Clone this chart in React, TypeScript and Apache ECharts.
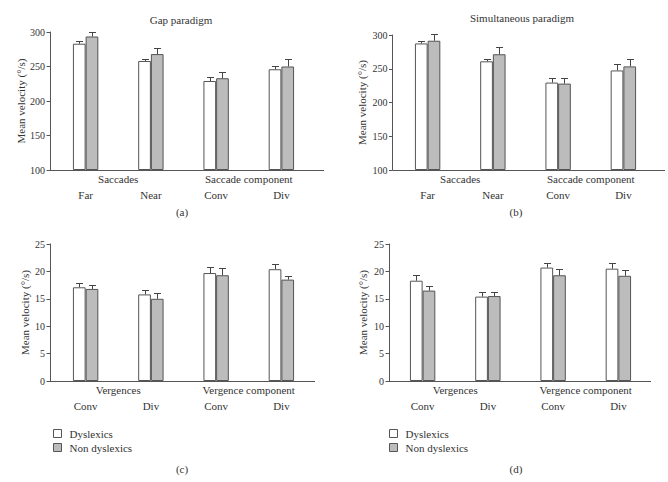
import React, { useEffect, useRef } from "react";
import * as echarts from "echarts";

// ---- Data ----
const saccadeCats = ["Far", "Near", "Conv", "Div"];
const saccadeGroups = ["Saccades", "Saccade component"];
const vergenceCats = ["Conv", "Div", "Conv", "Div"];
const vergenceGroups = ["Vergences", "Vergence component"];
const seriesNames = ["Dyslexics", "Non dyslexics"];

// (a) Gap paradigm – saccades
const gapDys = [283, 258, 229, 246];
const gapDysErr = [3.5, 3.5, 5.5, 5];
const gapNon = [293.5, 268, 233, 250];
const gapNonErr = [7, 9.5, 9, 11];
// (b) Simultaneous paradigm – saccades
const simDys = [287.5, 261, 229.5, 247.5];
const simDysErr = [4, 3.5, 7.5, 9.5];
const simNon = [291.5, 271.5, 228, 253.5];
const simNonErr = [9.5, 10.5, 9, 11.5];
// (c) Gap paradigm – vergences
const gapVDys = [17.1, 15.8, 19.7, 20.4];
const gapVDysErr = [0.8, 0.8, 1.1, 1.0];
const gapVNon = [16.8, 15.0, 19.3, 18.5];
const gapVNonErr = [0.8, 1.0, 1.4, 0.6];
// (d) Simultaneous paradigm – vergences
const simVDys = [18.3, 15.4, 20.7, 20.5];
const simVDysErr = [1.1, 0.9, 0.9, 1.0];
const simVNon = [16.5, 15.5, 19.3, 19.2];
const simVNonErr = [0.9, 0.8, 1.2, 1.1];

const FONT = "'Liberation Serif', 'DejaVu Serif', serif";
const TXT = "#333";
const AX = "#555";
const BAR_W = 12.7;

type Panel = {
  grid: { left: number; top: number; width: number; height: number };
  yOffset: number;
  nameGap: number;
  min: number;
  max: number;
  interval: number;
  cats: string[];
  groups: string[];
  dys: number[];
  dysErr: number[];
  non: number[];
  nonErr: number[];
  axisEnd: number;
};

const panels: Panel[] = [
  {
    grid: { left: 53, top: 32, width: 261, height: 138 },
    yOffset: 3, nameGap: 24, min: 100, max: 300, interval: 50,
    cats: saccadeCats, groups: saccadeGroups,
    dys: gapDys, dysErr: gapDysErr, non: gapNon, nonErr: gapNonErr, axisEnd: 324,
  },
  {
    grid: { left: 395, top: 35, width: 261, height: 135 },
    yOffset: 2.5, nameGap: 25, min: 100, max: 300, interval: 50,
    cats: saccadeCats, groups: saccadeGroups,
    dys: simDys, dysErr: simDysErr, non: simNon, nonErr: simNonErr, axisEnd: 665,
  },
  {
    grid: { left: 53, top: 244, width: 261, height: 137 },
    yOffset: 3, nameGap: 20, min: 0, max: 25, interval: 5,
    cats: vergenceCats, groups: vergenceGroups,
    dys: gapVDys, dysErr: gapVDysErr, non: gapVNon, nonErr: gapVNonErr, axisEnd: 315,
  },
  {
    grid: { left: 390, top: 244, width: 261, height: 137 },
    yOffset: 1, nameGap: 21, min: 0, max: 25, interval: 5,
    cats: vergenceCats, groups: vergenceGroups,
    dys: simVDys, dysErr: simVDysErr, non: simVNon, nonErr: simVNonErr, axisEnd: 651,
  },
];

const panelLabels = ["(a)", "(b)", "(c)", "(d)"];
const panelTitles = ["Gap paradigm", "Simultaneous paradigm"];

function errSeries(name: string, xIdx: number, yIdx: number, vals: number[], errs: number[], shift: number) {
  return {
    type: "custom",
    name,
    xAxisIndex: xIdx,
    yAxisIndex: yIdx,
    z: 5,
    clip: false,
    data: vals.map((v, i) => [i, v, errs[i]]),
    renderItem: (params: any, api: any) => {
      const x = api.value(0);
      const v = api.value(1);
      const e = api.value(2);
      const p0 = api.coord([x, v]);
      const p1 = api.coord([x, v + e]);
      const cx = Math.round(p0[0] + shift) + 0.5;
      const ty = Math.round(p1[1]) + 0.5;
      return {
        type: "group",
        children: [
          { type: "line", shape: { x1: cx, y1: p0[1], x2: cx, y2: ty }, style: { stroke: "#444", lineWidth: 1 } },
          { type: "line", shape: { x1: cx - 3.5, y1: ty, x2: cx + 3.5, y2: ty }, style: { stroke: "#444", lineWidth: 1 } },
        ],
      };
    },
  };
}

export default function App() {
  const ref = useRef<HTMLDivElement>(null);
  useEffect(() => {
    if (!ref.current) return;
    const chart = echarts.init(ref.current, null, { renderer: "svg" });

    const grid: any[] = [];
    const xAxis: any[] = [];
    const yAxis: any[] = [];
    const series: any[] = [];
    const graphic: any[] = [];

    panels.forEach((p, i) => {
      grid.push({ ...p.grid, containLabel: false });
      // main categories
      xAxis.push({
        type: "category",
        gridIndex: i,
        position: "bottom",
        data: p.cats,
        axisLine: { show: false },
        axisTick: { show: false },
        axisLabel: { margin: 19, color: TXT, fontFamily: FONT, fontSize: 11 },
      });
      // group categories
      xAxis.push({
        type: "category",
        gridIndex: i,
        position: "bottom",
        data: p.groups,
        axisLine: { show: false },
        axisTick: { show: false },
        axisLabel: { margin: 3, color: TXT, fontFamily: FONT, fontSize: 11 },
      });
      yAxis.push({
        type: "value",
        gridIndex: i,
        min: p.min,
        max: p.max,
        interval: p.interval,
        startValue: p.min,
        offset: p.yOffset,
        name: "Mean velocity (°/s)",
        nameLocation: "middle",
        nameGap: p.nameGap,
        nameTextStyle: { color: TXT, fontFamily: FONT, fontSize: 11 },
        splitLine: { show: false },
        axisLine: { show: true, lineStyle: { color: AX, width: 1 } },
        axisTick: { show: true, length: 3.5, lineStyle: { color: AX } },
        axisLabel: { margin: 5, color: TXT, fontFamily: FONT, fontSize: 10 },
      });
      const xi = i * 2;
      series.push({
        type: "bar",
        name: seriesNames[0],
        xAxisIndex: xi,
        yAxisIndex: i,
        data: p.dys,
        barWidth: BAR_W,
        barGap: "0%",
        clip: true,
        itemStyle: { color: "#ffffff", borderColor: AX, borderWidth: 1 },
      });
      series.push({
        type: "bar",
        name: seriesNames[1],
        xAxisIndex: xi,
        yAxisIndex: i,
        data: p.non,
        barWidth: BAR_W,
        barGap: "0%",
        clip: true,
        itemStyle: { color: "#bcbcbc", borderColor: AX, borderWidth: 1 },
      });
      series.push(errSeries("err-d" + i, xi, i, p.dys, p.dysErr, -BAR_W / 2));
      series.push(errSeries("err-n" + i, xi, i, p.non, p.nonErr, BAR_W / 2));

      // extended x-axis baseline
      const yBase = Math.round(p.grid.top + p.grid.height) + 0.5;
      graphic.push({
        type: "line",
        shape: { x1: p.grid.left - p.yOffset, y1: yBase, x2: p.axisEnd, y2: yBase },
        style: { stroke: AX, lineWidth: 1 },
        z: 10,
      });
    });

    const textStyle = (s: string, x: number, y: number) => ({
      type: "text",
      x,
      y,
      style: { text: s, fill: TXT, font: `11px ${FONT}`, textAlign: "center", textVerticalAlign: "middle" },
    });
    graphic.push(textStyle(panelTitles[0], 181, 20));
    graphic.push(textStyle(panelTitles[1], 522, 18));
    graphic.push(textStyle(panelLabels[0], 182, 212));
    graphic.push(textStyle(panelLabels[1], 516, 212));
    graphic.push(textStyle(panelLabels[2], 182, 469));
    graphic.push(textStyle(panelLabels[3], 516, 469));

    const legendBase = {
      orient: "vertical",
      top: 428,
      padding: 0,
      itemWidth: 8,
      itemHeight: 8,
      itemGap: 3,
      icon: "rect",
      data: seriesNames,
      selectedMode: false,
      itemStyle: { borderColor: AX, borderWidth: 1 },
      textStyle: { color: TXT, fontFamily: FONT, fontSize: 11, lineHeight: 11, padding: [0, 0, 0, 3] },
    };

    chart.setOption({
      animation: false,
      backgroundColor: "#ffffff",
      grid,
      xAxis,
      yAxis,
      series,
      legend: [
        { ...legendBase, left: 53 },
        { ...legendBase, left: 389 },
      ],
      graphic,
    });
    return () => chart.dispose();
  }, []);

  return (
    <div
      ref={ref}
      style={{ position: "fixed", left: 0, top: 0, width: 668, height: 482, background: "#fff" }}
    />
  );
}
